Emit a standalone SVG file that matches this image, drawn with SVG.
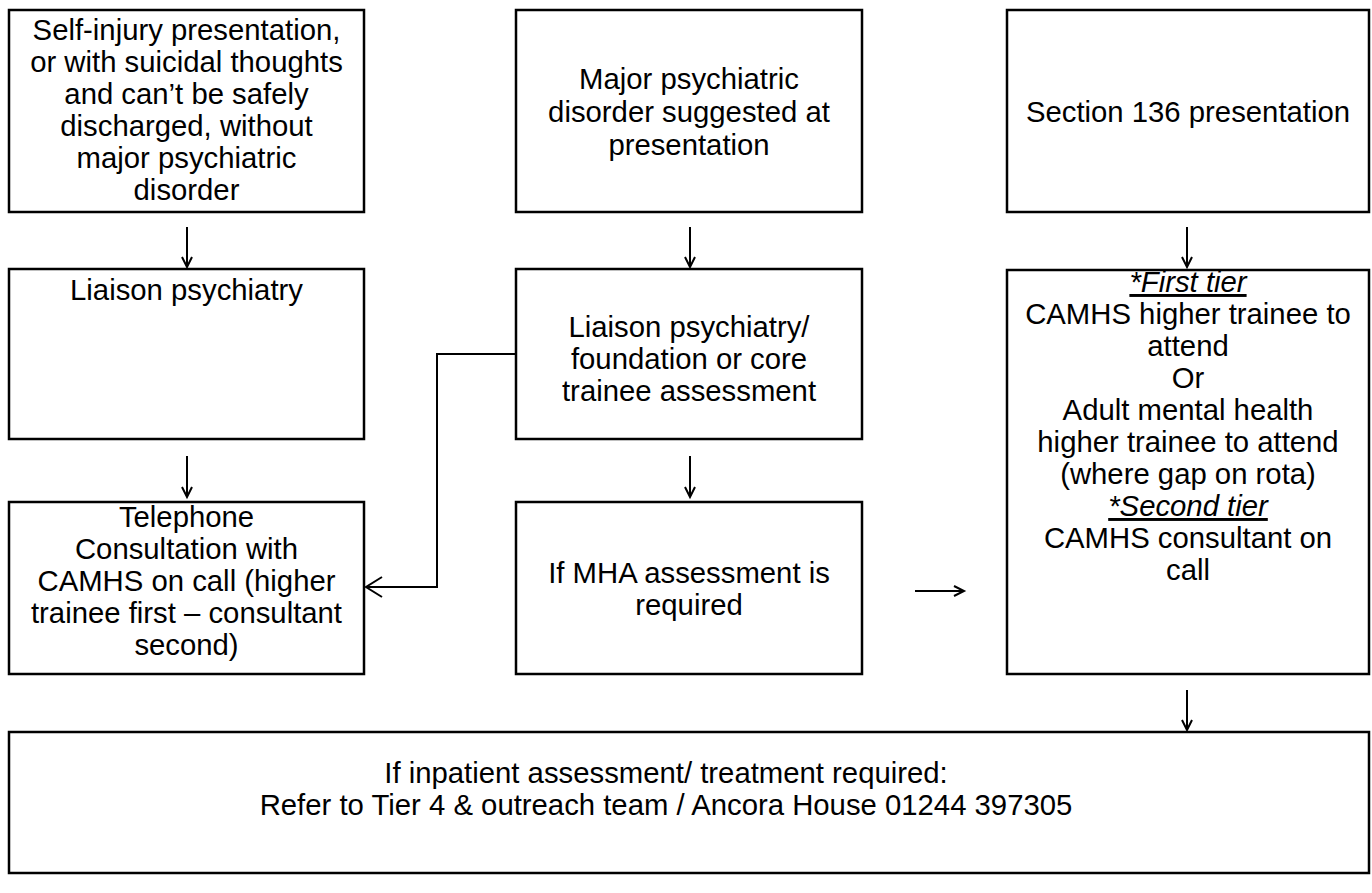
<svg xmlns="http://www.w3.org/2000/svg" width="1372" height="893" viewBox="0 0 1372 893">
<style>
.box{fill:#fff;stroke:#000;stroke-width:2.5}
text{font-family:"Liberation Sans",Arial,sans-serif;font-size:29.3px;fill:#000;text-anchor:middle}
.it{font-style:italic;text-decoration:underline}
.c{fill:none;stroke:#000;stroke-width:2}
</style>
<defs>
<marker id="ah" markerWidth="14" markerHeight="14" refX="11" refY="6" orient="auto" markerUnits="userSpaceOnUse">
<path d="M1,1 L11,6 L1,11" fill="none" stroke="#000" stroke-width="2"/>
</marker>
<marker id="ah2" markerWidth="20" markerHeight="24" refX="17" refY="11" orient="auto" markerUnits="userSpaceOnUse">
<path d="M1,1 L17,11 L1,21" fill="none" stroke="#000" stroke-width="2"/>
</marker>
</defs>
<rect width="1372" height="893" fill="#fff"/>
<g id="n1">
<rect class="box" x="9" y="10" width="355" height="202"/>
<text x="186.5" y="40">Self-injury presentation,</text>
<text x="186.5" y="72">or with suicidal thoughts</text>
<text x="186.5" y="104">and can’t be safely</text>
<text x="186.5" y="136">discharged, without</text>
<text x="186.5" y="168">major psychiatric</text>
<text x="186.5" y="200">disorder</text>
</g>
<g id="n2">
<rect class="box" x="516" y="10" width="346" height="202"/>
<text x="689" y="89">Major psychiatric</text>
<text x="689" y="122">disorder suggested at</text>
<text x="689" y="155">presentation</text>
</g>
<g id="n3">
<rect class="box" x="1007" y="10" width="362" height="202"/>
<text x="1188" y="122">Section 136 presentation</text>
</g>
<g id="n4">
<rect class="box" x="9" y="269" width="355" height="170"/>
<text x="186.5" y="300">Liaison psychiatry</text>
</g>
<g id="n5">
<rect class="box" x="516" y="269" width="346" height="170"/>
<text x="689" y="337">Liaison psychiatry/</text>
<text x="689" y="369">foundation or core</text>
<text x="689" y="401">trainee assessment</text>
</g>
<g id="n6">
<rect class="box" x="1007" y="270" width="362" height="404"/>
<text x="1188" y="292" class="it">*First tier</text>
<text x="1188" y="324">CAMHS higher trainee to</text>
<text x="1188" y="356">attend</text>
<text x="1188" y="388">Or</text>
<text x="1188" y="420">Adult mental health</text>
<text x="1188" y="452">higher trainee to attend</text>
<text x="1188" y="484">(where gap on rota)</text>
<text x="1188" y="516" class="it">*Second tier</text>
<text x="1188" y="548">CAMHS consultant on</text>
<text x="1188" y="580">call</text>
</g>
<g id="n7">
<rect class="box" x="9" y="502" width="355" height="172"/>
<text x="186.5" y="527">Telephone</text>
<text x="186.5" y="559">Consultation with</text>
<text x="186.5" y="591">CAMHS on call (higher</text>
<text x="186.5" y="623">trainee first – consultant</text>
<text x="186.5" y="655">second)</text>
</g>
<g id="n8">
<rect class="box" x="516" y="502" width="346" height="172"/>
<text x="689" y="583">If MHA assessment is</text>
<text x="689" y="615">required</text>
</g>
<g id="n9">
<rect class="box" x="9" y="732" width="1360" height="141"/>
<text x="666" y="783">If inpatient assessment/ treatment required:</text>
<text x="666" y="815">Refer to Tier 4 &amp; outreach team / Ancora House 01244 397305</text>
</g>
<g id="connectors">
<line class="c" x1="187" y1="227" x2="187" y2="267" marker-end="url(#ah)"/>
<line class="c" x1="690" y1="227" x2="690" y2="267" marker-end="url(#ah)"/>
<line class="c" x1="1187" y1="227" x2="1187" y2="267" marker-end="url(#ah)"/>
<line class="c" x1="187" y1="456" x2="187" y2="497" marker-end="url(#ah)"/>
<line class="c" x1="690" y1="456" x2="690" y2="497" marker-end="url(#ah)"/>
<line class="c" x1="1187" y1="690" x2="1187" y2="730" marker-end="url(#ah)"/>
<line class="c" x1="915" y1="591" x2="964" y2="591" marker-end="url(#ah)"/>
<polyline class="c" points="515,354 437,354 437,587 366,587" marker-end="url(#ah2)"/>
</g>
</svg>
